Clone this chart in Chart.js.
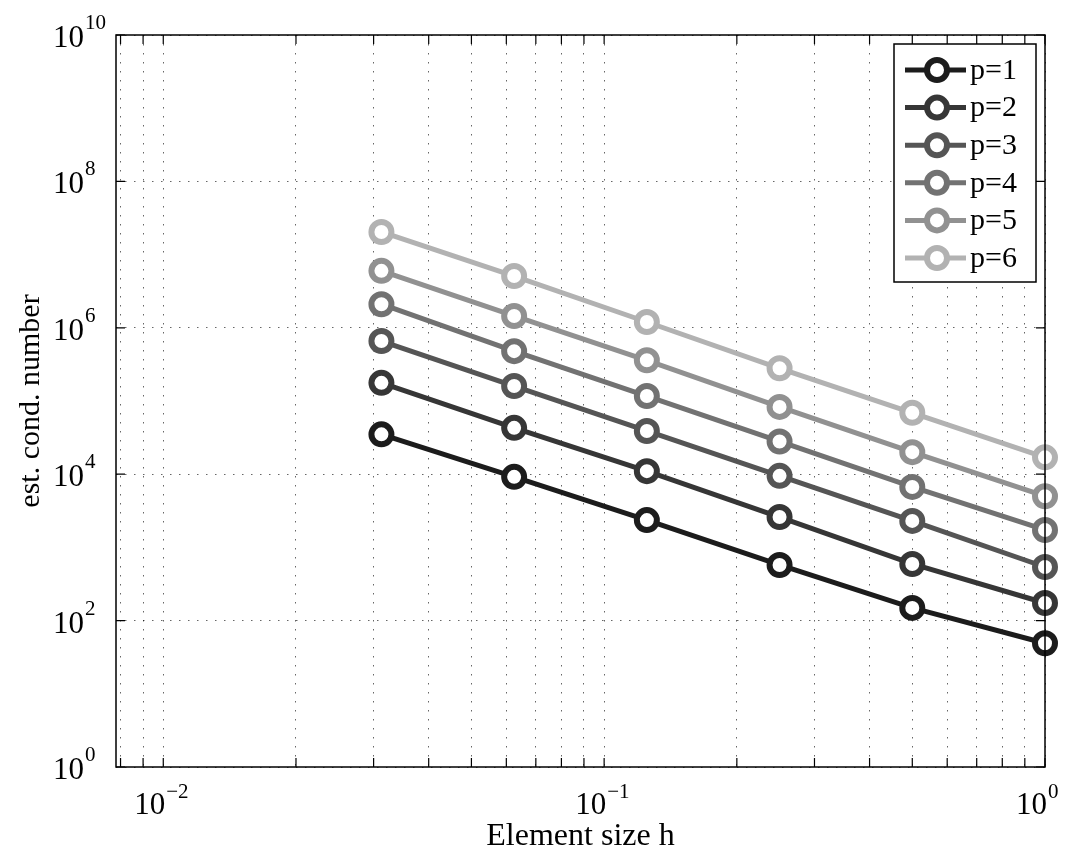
<!DOCTYPE html>
<html>
<head>
<meta charset="utf-8">
<script src="https://cdn.jsdelivr.net/npm/chart.js@4.4.1/dist/chart.umd.min.js"></script>
<style>
  html, body { margin: 0; padding: 0; background: #fff; }
  #wrap { width: 1080px; height: 859px; }
</style>
</head>
<body>
<div id="wrap"><canvas id="condChart" width="1080" height="859"></canvas></div>
<script>
// element sizes h (x) and estimated condition numbers per polynomial degree
const hValues = [0.03125, 0.0625, 0.125, 0.25, 0.5, 1]
const condP1 = [3.5e4, 9.2e3, 2.36e3, 575, 149, 49]
const condP2 = [1.77e5, 4.3e4, 1.1e4, 2.6e3, 594, 174]
const condP3 = [6.6e5, 1.6e5, 3.9e4, 9.5e3, 2.3e3, 540]
const condP4 = [2.1e6, 4.8e5, 1.17e5, 2.8e4, 6.7e3, 1.73e3]
const condP5 = [6.0e6, 1.45e6, 3.6e5, 8.3e4, 2.0e4, 5.0e3]
const condP6 = [2.04e7, 5.1e6, 1.2e6, 2.8e5, 6.9e4, 1.7e4]

const seriesLabels = ['p=1', 'p=2', 'p=3', 'p=4', 'p=5', 'p=6']
const seriesData = [condP1, condP2, condP3, condP4, condP5, condP6]
const seriesColors = ['#1c1c1c', '#363636', '#555555', '#727272', '#919191', '#b2b2b2']

// grid / tick positions
const xGridValues = [0.008, 0.009, 0.01, 0.02, 0.03, 0.04, 0.05, 0.06, 0.07, 0.08, 0.09,
  0.1, 0.2, 0.3, 0.4, 0.5, 0.6, 0.7, 0.8, 0.9, 1]
const yGridValues = [1, 1e2, 1e4, 1e6, 1e8, 1e10]
const xLabelValues = [0.01, 0.1, 1]
const xLabelExps = ['\u22122', '\u22121', '0']
const yLabelValues = [1, 1e2, 1e4, 1e6, 1e8, 1e10]
const yLabelExps = ['0', '2', '4', '6', '8', '10']

const xTitle = 'Element size h'
const yTitle = 'est. cond. number'

const SERIF = '"Liberation Serif", "DejaVu Serif", serif'
const gridColor = 'rgba(0, 0, 0, 0.6)'

const datasets = seriesLabels.map((label, i) => ({
  label: label,
  data: hValues.map((h, j) => ({ x: h, y: seriesData[i][j] })),
  borderColor: seriesColors[i],
  backgroundColor: '#ffffff',
  pointBackgroundColor: '#ffffff',
  pointBorderColor: seriesColors[i],
  borderWidth: 5,
  pointRadius: 10,
  pointBorderWidth: 6,
  pointHoverRadius: 10,
  tension: 0,
  clip: false
}))

// "10" ends at baseX, exponent follows as a superscript
function drawPower(ctx, exp, baseX, baseY, supY) {
  ctx.textAlign = 'right'
  ctx.font = '31px ' + SERIF
  ctx.fillText('10', baseX, baseY)
  ctx.textAlign = 'left'
  ctx.font = '21px ' + SERIF
  ctx.fillText(exp, baseX + 1, supY)
}

// box, inward ticks, tick labels, titles and legend in the MATLAB style
const matlabAxes = {
  id: 'matlabAxes',
  afterDraw(chart) {
    const ctx = chart.ctx
    const area = chart.chartArea
    const xs = chart.scales.x
    const ys = chart.scales.y
    const tickLen = 9

    ctx.save()
    ctx.strokeStyle = '#000'
    ctx.lineWidth = 1.5
    ctx.setLineDash([])
    ctx.strokeRect(area.left, area.top, area.right - area.left, area.bottom - area.top)

    ctx.lineWidth = 1.2
    ctx.beginPath()
    xGridValues.forEach(v => {
      const px = xs.getPixelForValue(v)
      ctx.moveTo(px, area.bottom); ctx.lineTo(px, area.bottom - tickLen)
      ctx.moveTo(px, area.top); ctx.lineTo(px, area.top + tickLen)
    })
    yGridValues.forEach(v => {
      const py = ys.getPixelForValue(v)
      ctx.moveTo(area.left, py); ctx.lineTo(area.left + tickLen, py)
      ctx.moveTo(area.right, py); ctx.lineTo(area.right - tickLen, py)
    })
    ctx.stroke()

    ctx.fillStyle = '#000'
    ctx.textBaseline = 'alphabetic'
    xLabelValues.forEach((v, i) => {
      const px = xs.getPixelForValue(v)
      drawPower(ctx, xLabelExps[i], px + 2, area.bottom + 47, area.bottom + 31)
    })
    yLabelValues.forEach((v, i) => {
      const py = ys.getPixelForValue(v)
      drawPower(ctx, yLabelExps[i], 84, py + 12, py - 6)
    })

    // axis titles
    ctx.textAlign = 'center'
    ctx.font = '32px ' + SERIF
    ctx.fillText(xTitle, (area.left + area.right) / 2, 845)
    ctx.save()
    ctx.font = '30px ' + SERIF
    ctx.translate(31, (area.top + area.bottom) / 2)
    ctx.rotate(-Math.PI / 2)
    ctx.textBaseline = 'middle'
    ctx.fillText(yTitle, 0, 0)
    ctx.restore()

    // legend
    const lg = { left: 894, top: 44, right: 1036, bottom: 282 }
    ctx.fillStyle = '#fff'
    ctx.fillRect(lg.left, lg.top, lg.right - lg.left, lg.bottom - lg.top)
    ctx.strokeStyle = '#000'
    ctx.lineWidth = 1.5
    ctx.strokeRect(lg.left, lg.top, lg.right - lg.left, lg.bottom - lg.top)
    chart.data.datasets.forEach((ds, i) => {
      const y = 70 + i * 37.6
      ctx.strokeStyle = ds.borderColor
      ctx.lineWidth = 5
      ctx.beginPath()
      ctx.moveTo(905, y); ctx.lineTo(966, y)
      ctx.stroke()
      ctx.beginPath()
      ctx.arc(937, y, 10, 0, Math.PI * 2)
      ctx.fillStyle = '#fff'
      ctx.fill()
      ctx.lineWidth = 6
      ctx.stroke()
      ctx.fillStyle = '#000'
      ctx.font = '30px ' + SERIF
      ctx.textAlign = 'left'
      ctx.textBaseline = 'middle'
      ctx.fillText(ds.label, 970, y + 1)
    })
    ctx.restore()
  }
}

new Chart(document.getElementById('condChart'), {
  type: 'line',
  data: { datasets: datasets },
  options: {
    responsive: false,
    animation: false,
    layout: { autoPadding: false, padding: { top: 35, right: 35, left: 0, bottom: 0 } },
    plugins: {
      legend: { display: false },
      tooltip: { enabled: false }
    },
    scales: {
      x: {
        type: 'logarithmic',
        min: 0.0078125,
        max: 1,
        afterBuildTicks: (scale) => { scale.ticks = xGridValues.map(v => ({ value: v })) },
        afterFit: (scale) => { scale.height = 92 },
        ticks: { display: false },
        grid: { color: gridColor, lineWidth: 1, drawTicks: false },
        border: { display: false, dash: [1.5, 7.5] }
      },
      y: {
        type: 'logarithmic',
        min: 1,
        max: 1e10,
        afterBuildTicks: (scale) => { scale.ticks = yGridValues.map(v => ({ value: v })) },
        afterFit: (scale) => { scale.width = 116 },
        ticks: { display: false },
        grid: { color: gridColor, lineWidth: 1, drawTicks: false },
        border: { display: false, dash: [1.5, 7.5] }
      }
    }
  },
  plugins: [matlabAxes]
})
</script>
</body>
</html>
